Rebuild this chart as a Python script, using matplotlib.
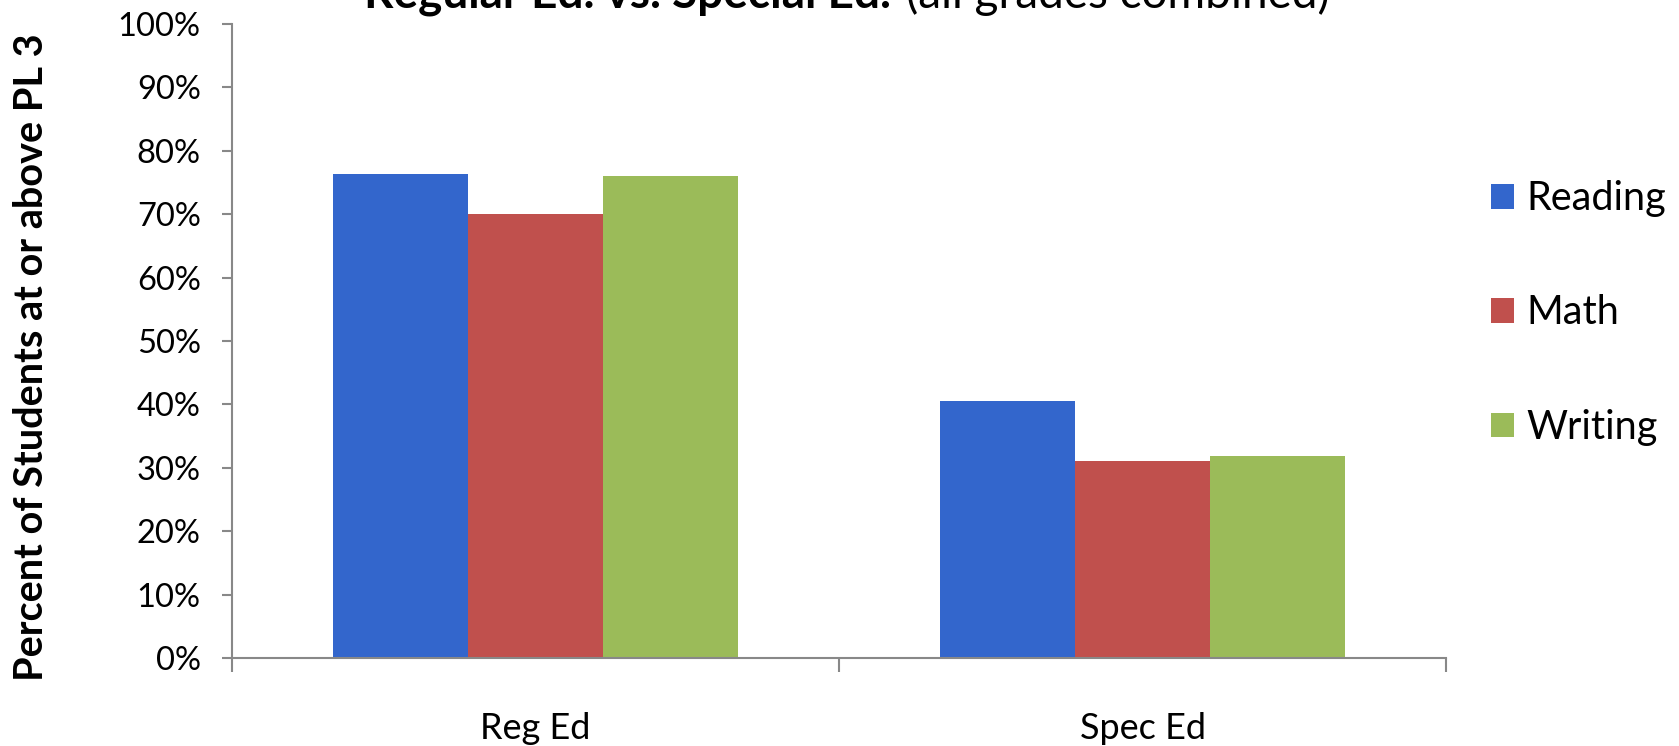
import numpy as np
import matplotlib
matplotlib.use("Agg")
import matplotlib.pyplot as plt
from matplotlib.ticker import PercentFormatter, FixedLocator
from matplotlib.patches import Patch

plt.rcParams['font.family'] = ['Lato', 'DejaVu Sans']

groups = ['Reg Ed', 'Spec Ed']
subjects = ['Reading', 'Math', 'Writing']
reading = [0.764, 0.405]
math_ = [0.700, 0.310]
writing = [0.761, 0.319]
colors = ['#3366CC', '#C0504D', '#9BBB59']
axis_gray = '#888888'

fig = plt.figure(figsize=(16.79, 7.46), dpi=100)
ax = fig.add_axes([232 / 1679, 1 - 658 / 746, (1446 - 232) / 1679, (658 - 24) / 746])

centers = np.arange(len(groups)) + 0.5
w = 0.222
for k, (vals, c) in enumerate(zip([reading, math_, writing], colors)):
    ax.bar(centers + (k - 1) * w, vals, width=w, color=c, edgecolor='none', zorder=2)

ax.set_xlim(0, 2)
ax.set_ylim(0, 1)
ax.yaxis.set_major_locator(FixedLocator(np.arange(0, 1.01, 0.1)))
ax.yaxis.set_major_formatter(PercentFormatter(1.0, decimals=0))

ax.set_xticks([0, 1, 2])
ax.set_xticklabels([])
ax.set_xticks(centers, minor=True)
ax.set_xticklabels(groups, minor=True)
ax.tick_params(axis='x', which='major', length=10, width=1.5, color=axis_gray, direction='out')
ax.tick_params(axis='x', which='minor', length=0, pad=39, labelsize=26)
ax.tick_params(axis='y', length=7.5, width=1.5, color=axis_gray, pad=15, labelsize=23.5)

for s in ['top', 'right']:
    ax.spines[s].set_visible(False)
for s in ['left', 'bottom']:
    ax.spines[s].set_color(axis_gray)
    ax.spines[s].set_linewidth(1.5)

fig.text(32 / 1679, 1 - 357 / 746, 'Percent of Students at or above PL 3',
         rotation=90, ha='center', va='center', fontsize=28.5, fontweight='bold')

handles = [Patch(facecolor=c, edgecolor='none') for c in colors]
fig.legend(handles, subjects, loc='center left', bbox_to_anchor=(1491 / 1679, 1 - 313 / 746),
           frameon=False, fontsize=28.5, handlelength=0.57, handleheight=0.57,
           handletextpad=0.33, labelspacing=1.95, borderpad=0, borderaxespad=0)

# title, cut off at the top like the source
t1 = fig.text(364 / 1679, 1 - 8 / 746, 'Regular Ed. vs. Special Ed.', ha='left', va='baseline',
              fontsize=33, fontweight='bold')
fig.canvas.draw()
bb = t1.get_window_extent()
fig.text((bb.x1 + 15) / 1679, 1 - 8 / 746, '(all grades combined)', ha='left', va='baseline',
         fontsize=33)

fig.savefig('out.png', dpi=100)
